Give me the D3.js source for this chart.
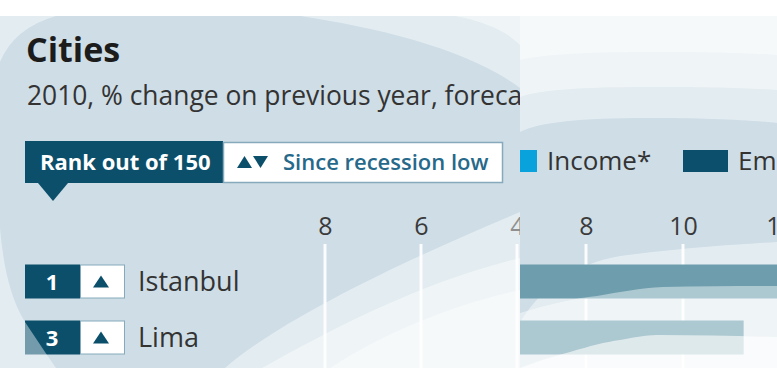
<!DOCTYPE html>
<html><head><meta charset="utf-8">
<script src="https://cdn.jsdelivr.net/npm/d3@7"></script>
<style>
html,body{margin:0;padding:0;background:#fff;}
svg{display:block;font-family:"Open Sans",sans-serif;}
</style></head>
<body>
<script>
// ---- data ----
const cities = ["Istanbul", "Lima"];
const ranks = [1, 3];
const directions = ["up", "up"];
const barValues = [12.6, 11.25];
const leftTicks = [8, 6, 4];
const rightTicks = [8, 10, 12];
const legendLabels = ["Income*", "Employment"];
const legendColors = ["#0aa2dc", "#0b4f6c"];
const titleText = "Cities";
const subtitleText = "2010, % change on previous year, forecast";
const tabLabels = ["Rank out of 150", "Since recession low"];

const W = 777, H = 385;
const top0 = 16, bot0 = 368, split = 520;
const BG = "#cedde6", DARK = "#0c4f6b", TEAL = "#26698a", OV = 0.43;

const svg = d3.select("body").append("svg").attr("width", W).attr("height", H);
const defs = svg.append("defs");
defs.append("clipPath").attr("id", "clipL").append("rect")
  .attr("x", 0).attr("y", top0).attr("width", split).attr("height", bot0 - top0);
defs.append("clipPath").attr("id", "clipR").append("rect")
  .attr("x", split).attr("y", top0).attr("width", W - split).attr("height", bot0 - top0);

const xL = d3.scaleLinear().domain([8, 4]).range([325, 517]);
const xR = d3.scaleLinear().domain([8, 12]).range([586, 780]);
const y = d3.scalePoint().domain(cities).range([281.5, 337.5]);
const barH = 34;

function overlay(g, d, op) {
  g.append("path").attr("d", d).attr("fill", "#fff").attr("fill-opacity", op == null ? OV : op);
}

// ================= LEFT PANEL =================
const L = svg.append("g").attr("clip-path", "url(#clipL)");
L.append("rect").attr("x", 0).attr("y", top0).attr("width", split).attr("height", bot0 - top0).attr("fill", BG);

L.append("text").attr("x", 26).attr("y", 62).attr("font-size", 34).attr("font-weight", 700)
  .attr("fill", "#1c1c1c").text(titleText);
L.append("text").attr("x", 27).attr("y", 105).attr("font-size", 26.4)
  .attr("fill", "#333").text(subtitleText);

// tab
L.append("rect").attr("x", 25).attr("y", 141).attr("width", 198).attr("height", 42).attr("fill", DARK);
L.append("path").attr("d", "M38,183 L68,183 L53,201 Z").attr("fill", DARK);
L.append("text").attr("x", 40).attr("y", 170).attr("font-size", 22).attr("font-weight", 700)
  .attr("fill", "#fff").text(tabLabels[0]);
L.append("rect").attr("x", 223.5).attr("y", 142.5).attr("width", 279).attr("height", 40)
  .attr("fill", "#fff").attr("stroke", "#86aabb").attr("stroke-width", 1.5);
L.append("path").attr("d", "M237,168 L244.5,156 L252,168 Z").attr("fill", DARK);
L.append("path").attr("d", "M253,156 L268,156 L260.5,168 Z").attr("fill", DARK);
L.append("text").attr("x", 283).attr("y", 170).attr("font-size", 22).attr("font-weight", 600)
  .attr("fill", TEAL).text(tabLabels[1]);

// left axis
const axL = d3.axisTop(xL).tickValues(leftTicks).tickSize(0).tickPadding(0).tickFormat(d3.format("d"));
const gAL = L.append("g").attr("transform", "translate(0,235)").call(axL);
gAL.select(".domain").remove();
gAL.selectAll("text").attr("font-size", 25).attr("font-family", "Open Sans").attr("fill", "#3a3a3a").attr("dy", 0);
L.selectAll(".gridL").data(leftTicks).join("line")
  .attr("x1", d => xL(d)).attr("x2", d => xL(d)).attr("y1", 244).attr("y2", bot0)
  .attr("stroke", "#fff").attr("stroke-opacity", 0.9).attr("stroke-width", 3);

// rank boxes & city labels
const rows = L.selectAll(".row").data(cities).join("g").attr("class", "row");
rows.append("rect").attr("x", 25).attr("y", d => y(d) - barH / 2).attr("width", 55).attr("height", barH).attr("fill", DARK);
rows.append("rect").attr("x", 80.5).attr("y", d => y(d) - barH / 2 + 0.5).attr("width", 44).attr("height", barH - 1)
  .attr("fill", "#fff").attr("stroke", "#86aabb").attr("stroke-width", 1);
rows.append("text").attr("x", 52).attr("y", d => y(d) + 8).attr("text-anchor", "middle")
  .attr("font-size", 22).attr("font-weight", 700).attr("fill", "#fff").text((d, i) => ranks[i]);
rows.append("path").attr("d", (d, i) => {
  const cx = 101, cy = y(d);
  return directions[i] === "up"
    ? `M${cx - 8},${cy + 6} L${cx},${cy - 6} L${cx + 8},${cy + 6} Z`
    : `M${cx - 8},${cy - 6} L${cx},${cy + 6} L${cx + 8},${cy - 6} Z`;
}).attr("fill", DARK);
rows.append("text").attr("x", 138).attr("y", d => y(d) + 9.5).attr("font-size", 27)
  .attr("fill", "#333").text(d => d);

// translucent sweeping shapes (left)
overlay(L, "M0,16 L56,16 Q14,28 0,62 Z");
overlay(L, "M300,16 C380,28 470,50 520,88 L520,16 Z");
overlay(L, "M455,16 C485,22 505,30 520,45 L520,16 Z");
overlay(L, "M0,228 C3,262 9,296 25,322 L47,355 L56,368 L0,368 Z");
overlay(L, "M225,368 C280,320 400,262 520,212 L520,368 Z");
overlay(L, "M262,368 C330,330 420,282 520,258 L520,368 Z");
overlay(L, "M330,368 C380,335 450,305 520,290 L520,368 Z");

// ================= RIGHT PANEL =================
const R = svg.append("g").attr("clip-path", "url(#clipR)");
R.append("rect").attr("x", split).attr("y", top0).attr("width", W - split).attr("height", bot0 - top0).attr("fill", BG);
overlay(R, "M520,322 C545,282 580,263 620,256 C680,248 740,244 777,242 V368 H520 Z");

R.selectAll(".gridR").data(rightTicks).join("line")
  .attr("x1", d => xR(d)).attr("x2", d => xR(d)).attr("y1", 244).attr("y2", bot0)
  .attr("stroke", "#fff").attr("stroke-opacity", 0.9).attr("stroke-width", 3);

const axR = d3.axisTop(xR).tickValues(rightTicks).tickSize(0).tickPadding(0).tickFormat(d3.format("d"));
const gAR = R.append("g").attr("transform", "translate(0,235)").call(axR);
gAR.select(".domain").remove();
gAR.selectAll("text").attr("font-size", 25).attr("font-family", "Open Sans").attr("fill", "#3a3a3a").attr("dy", 0);

// legend
const legX = [492, 683], legTX = [547, 738];
legendLabels.forEach((lab, i) => {
  R.append("rect").attr("x", legX[i]).attr("y", 150).attr("width", 45).attr("height", 22).attr("fill", legendColors[i]);
  R.append("text").attr("x", legTX[i]).attr("y", 170).attr("font-size", 26).attr("fill", "#333").text(lab);
});

// bars
R.selectAll(".bar").data(cities).join("rect")
  .attr("x", xR(0)).attr("y", d => y(d) - barH / 2)
  .attr("width", (d, i) => xR(barValues[i]) - xR(0)).attr("height", barH)
  .attr("fill", "#6e9ead");

overlay(R, "M520,313 C550,304 575,298 597,296 C620,292 640,288 663,287 C700,286 740,286 777,286 V368 H520 Z");
overlay(R, "M520,368 C540,360 555,356 570,352 C590,346 605,342 620,340 C640,336 650,335 660,335 C700,335 740,336 777,337 V368 H520 Z", 0.6);
overlay(R, "M520,132 C540,122 580,118 650,118 C700,118 750,120 777,123 V16 H520 Z");
overlay(R, "M520,97 C540,90 580,87 650,87 C700,87 750,88 777,90 V16 H520 Z");
overlay(R, "M520,60 C540,55 580,52 650,52 C700,52 750,53 777,55 V16 H520 Z");
</script>
</body></html>
